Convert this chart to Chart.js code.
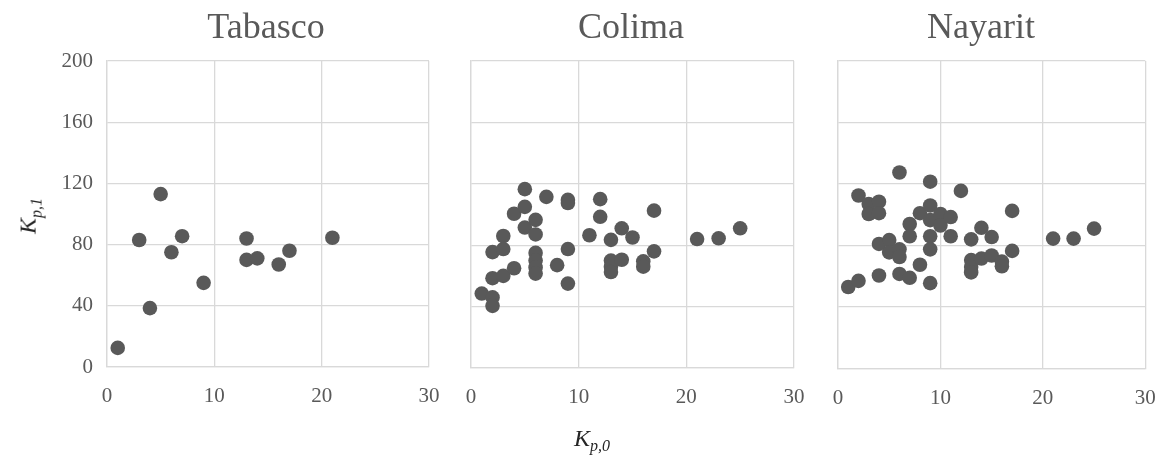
<!DOCTYPE html>
<html>
<head>
<meta charset="utf-8">
<script src="https://cdn.jsdelivr.net/npm/chart.js@4"></script>
<style>
  body { margin: 0; background: #fff; }
  #wrap { position: relative; width: 1165px; height: 455px; overflow: hidden; }
  canvas { position: absolute; top: 0; }
  .ttl { position: absolute; top: 8px; font-family: "Liberation Serif", serif; font-size: 36px; line-height: 36px; color: #595959; transform: translateX(-50%); white-space: nowrap; }
  .axt { position: absolute; font-family: "Liberation Serif", serif; font-style: italic; font-size: 24px; color: #262626; white-space: nowrap; }
  .axt sub { font-size: 16px; }
</style>
</head>
<body>
<div id="wrap">
  <canvas id="c1" width="460" height="455" style="left:0px"></canvas>
  <canvas id="c2" width="385" height="455" style="left:440px"></canvas>
  <canvas id="c3" width="358" height="455" style="left:807px"></canvas>
  <div class="ttl" style="left:266px">Tabasco</div>
  <div class="ttl" style="left:631px">Colima</div>
  <div class="ttl" style="left:981px">Nayarit</div>
  <div class="axt" style="left:30px;top:216px;transform:translate(-50%,-50%) rotate(-90deg)">K<sub>p,1</sub></div>
  <div class="axt" style="left:592px;top:440px;transform:translate(-50%,-50%)">K<sub>p,0</sub></div>
</div>
<script>
// tick values
const xTickValues = [0, 10, 20, 30];
const yTickValues = [0, 40, 80, 120, 160, 200];

// Tabasco
const tabascoX = [1, 3, 4, 5, 6, 7, 9, 13, 13, 14, 16, 17, 21];
const tabascoY = [12.5, 83, 38.5, 113, 75, 85.5, 55, 84, 70, 71, 67, 76, 84.5];

// Colima
const colimaX = [1, 2, 2, 2, 2, 3, 3, 3, 4, 4, 5, 5, 5, 6, 6, 6, 6, 6, 6, 7, 8, 9, 9, 9, 9,
  11, 12, 12, 13, 13, 13, 13, 14, 14, 15, 16, 16, 17, 17, 21, 23, 25];
const colimaY = [48.5, 46, 40.5, 58.5, 75.5, 86, 77.5, 60, 65, 100.5, 116.5, 105, 91.5, 96.5, 87, 75, 70, 65.5, 61.5, 111.5, 67, 109.5, 107.5, 77.5, 55,
  86.5, 110, 98.5, 83.5, 70, 66, 62.5, 91, 70.5, 85, 69.5, 66, 102.5, 76, 84, 84.5, 91];

// Nayarit
const nayaritX = [1, 2, 2, 3, 3, 4, 4, 4, 4, 5, 5, 6, 6, 6, 6, 7, 7, 7, 8, 8, 9, 9, 9, 9, 9, 9,
  10, 10, 11, 11, 12, 13, 13, 13, 13, 14, 14, 15, 15, 16, 16, 17, 17, 21, 23, 25];
const nayaritY = [53, 57, 112.5, 107, 100.5, 108.5, 101, 81, 60.5, 83.5, 75.5, 127.5, 77.5, 72.5, 61.5, 94, 86, 59, 101, 67.5, 121.5, 106, 96.5, 86, 77.5, 55.5,
  100.5, 93, 98.5, 86, 115.5, 84, 70.5, 66, 62.5, 91.5, 71.5, 85.5, 73.5, 69.5, 66.5, 102.5, 76.5, 84.5, 84.5, 91];

const serif = '"Liberation Serif", "Times New Roman", serif';
const gridColor = '#d9d9d9';
const textColor = '#595959';

function makePanel(id, xs, ys, showY, yWidth, rightPad, xHeight) {
  const pts = xs.map((x, i) => ({ x: x, y: ys[i] }));
  return new Chart(document.getElementById(id), {
    type: 'scatter',
    data: {
      datasets: [{
        data: pts,
        backgroundColor: '#595959',
        borderWidth: 0,
        pointRadius: 7.3,
        pointHoverRadius: 7.3
      }]
    },
    options: {
      responsive: false,
      animation: false,
      layout: { padding: { left: 0, right: rightPad, top: 61, bottom: 0 } },
      plugins: {
        legend: { display: false },
        tooltip: { enabled: false }
      },
      scales: {
        x: {
          type: 'linear',
          min: 0,
          max: 30,
          afterBuildTicks: s => { s.ticks = xTickValues.map(v => ({ value: v })); },
          afterFit: s => { s.height = xHeight; },
          grid: { color: gridColor, lineWidth: 1.3, drawTicks: true, tickLength: 17, tickColor: 'rgba(0,0,0,0)' },
          border: { color: gridColor, width: 1.3 },
          ticks: { color: textColor, padding: 0, font: { family: serif, size: 21 } }
        },
        y: {
          type: 'linear',
          min: 0,
          max: 200,
          afterBuildTicks: s => { s.ticks = yTickValues.map(v => ({ value: v })); },
          afterFit: s => { s.width = yWidth; },
          grid: { color: gridColor, lineWidth: 1.3, drawTicks: false },
          border: { color: gridColor, width: 1.3 },
          ticks: { display: showY, color: textColor, padding: 14, font: { family: serif, size: 21 } }
        }
      }
    }
  });
}

makePanel('c1', tabascoX, tabascoY, true, 107, 31, 88);
makePanel('c2', colimaX, colimaY, false, 31, 31, 87);
makePanel('c3', nayaritX, nayaritY, false, 31, 19.7, 86.5);
</script>
</body>
</html>
